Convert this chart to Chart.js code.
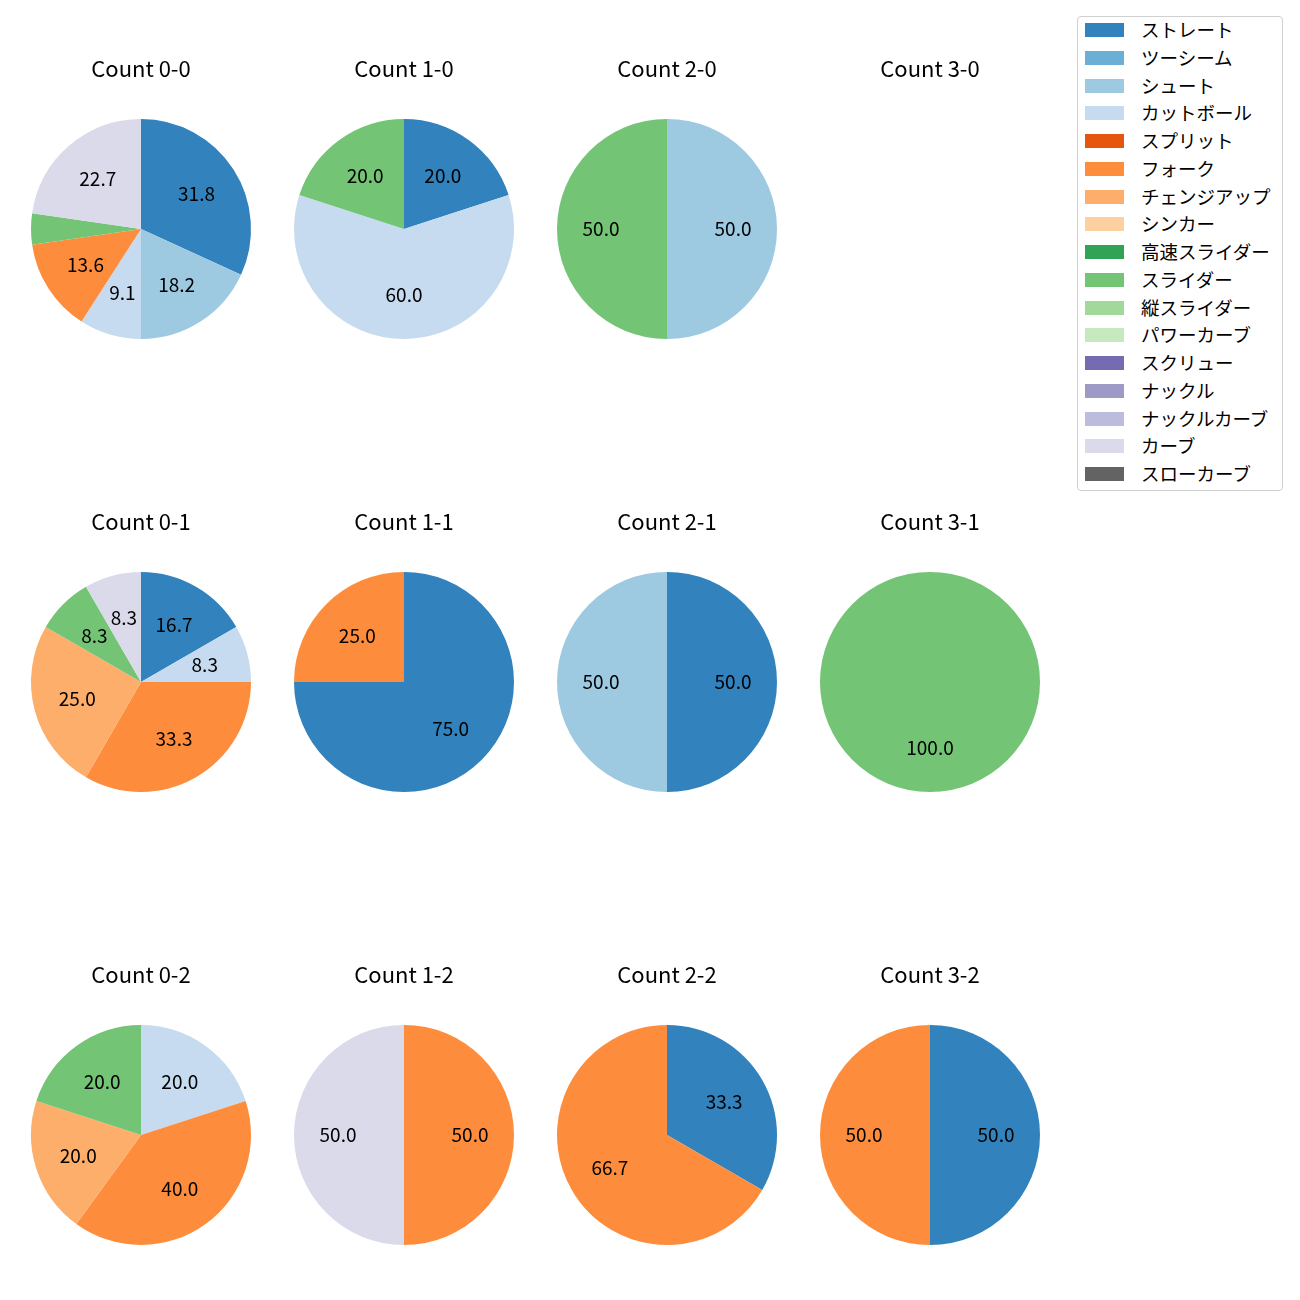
<!DOCTYPE html>
<html>
<head>
<meta charset="utf-8">
<script src="https://cdn.jsdelivr.net/npm/chart.js@4.4.0/dist/chart.umd.min.js"></script>
<style>
  body { margin: 0; background: #fff; width: 1300px; height: 1300px; position: relative; font-family: "Noto Sans CJK JP", "Noto Sans", sans-serif; }
  .pie { position: absolute; width: 260px; height: 300px; }
  #legend { position: absolute; left: 1077px; top: 16px; width: 204px; height: 473px; border: 1px solid #d0d0d0; border-radius: 4px; }
  .item { position: absolute; left: 0; height: 20px; font-size: 18.5px; color: #000; }
  .patch { position: absolute; left: 7px; top: 3px; width: 39px; height: 14px; }
  .label { position: absolute; left: 63px; top: -4px; white-space: nowrap; }
</style>
</head>
<body>
<div id="legend"></div>
<script>
// pitch types and colours (tab20c)
const pitchTypes = ["ストレート", "ツーシーム", "シュート", "カットボール", "スプリット", "フォーク",
  "チェンジアップ", "シンカー", "高速スライダー", "スライダー", "縦スライダー", "パワーカーブ",
  "スクリュー", "ナックル", "ナックルカーブ", "カーブ", "スローカーブ"];
const pitchColors = ["#3182bd", "#6baed6", "#9ecae1", "#c6dbef", "#e6550d", "#fd8d3c",
  "#fdae6b", "#fdd0a2", "#31a354", "#74c476", "#a1d99b", "#c7e9c0",
  "#756bb1", "#9e9ac8", "#bcbddc", "#dadaeb", "#636363"];

// number of pitches per type, same order as pitchTypes
const countNames = ["0-0", "1-0", "2-0", "3-0", "0-1", "1-1", "2-1", "3-1", "0-2", "1-2", "2-2", "3-2"];
const count00 = [7, 0, 4, 2, 0, 3, 0, 0, 0, 1, 0, 0, 0, 0, 0, 5, 0];
const count10 = [1, 0, 0, 3, 0, 0, 0, 0, 0, 1, 0, 0, 0, 0, 0, 0, 0];
const count20 = [0, 0, 1, 0, 0, 0, 0, 0, 0, 1, 0, 0, 0, 0, 0, 0, 0];
const count30 = [0, 0, 0, 0, 0, 0, 0, 0, 0, 0, 0, 0, 0, 0, 0, 0, 0];
const count01 = [2, 0, 0, 1, 0, 4, 3, 0, 0, 1, 0, 0, 0, 0, 0, 1, 0];
const count11 = [3, 0, 0, 0, 0, 1, 0, 0, 0, 0, 0, 0, 0, 0, 0, 0, 0];
const count21 = [1, 0, 1, 0, 0, 0, 0, 0, 0, 0, 0, 0, 0, 0, 0, 0, 0];
const count31 = [0, 0, 0, 0, 0, 0, 0, 0, 0, 1, 0, 0, 0, 0, 0, 0, 0];
const count02 = [0, 0, 0, 1, 0, 2, 1, 0, 0, 1, 0, 0, 0, 0, 0, 0, 0];
const count12 = [0, 0, 0, 0, 0, 1, 0, 0, 0, 0, 0, 0, 0, 0, 0, 1, 0];
const count22 = [1, 0, 0, 0, 0, 2, 0, 0, 0, 0, 0, 0, 0, 0, 0, 0, 0];
const count32 = [1, 0, 0, 0, 0, 1, 0, 0, 0, 0, 0, 0, 0, 0, 0, 0, 0];
const allCounts = [count00, count10, count20, count30, count01, count11, count21, count31,
  count02, count12, count22, count32];

const colX = [141, 404, 667, 930];
const rowY = [229, 682, 1135];

// percent labels at 0.6 of the radius like matplotlib
const pctLabels = {
  id: "pctLabels",
  afterDatasetsDraw(chart) {
    const ctx = chart.ctx;
    const data = chart.data.datasets[0].data;
    const total = data.reduce((a, b) => a + b, 0);
    if (total == 0) return;
    ctx.save();
    ctx.font = "19px 'Noto Sans CJK JP', 'Noto Sans', sans-serif";
    ctx.fillStyle = "#000";
    ctx.textAlign = "center";
    ctx.textBaseline = "middle";
    chart.getDatasetMeta(0).data.forEach(function (arc, i) {
      const pct = data[i] / total * 100;
      if (pct < 5) return;
      const mid = (arc.startAngle + arc.endAngle) / 2;
      const r = arc.outerRadius * 0.6;
      ctx.fillText(pct.toFixed(1), arc.x + r * Math.cos(mid), arc.y + r * Math.sin(mid));
    });
    ctx.restore();
  }
};

for (let i = 0; i < allCounts.length; i++) {
  const cx = colX[i % 4];
  const cy = rowY[Math.floor(i / 4)];
  const canvas = document.createElement("canvas");
  canvas.className = "pie";
  canvas.width = 260;
  canvas.height = 300;
  canvas.style.left = (cx - 130) + "px";
  canvas.style.top = (cy - 180) + "px";
  document.body.appendChild(canvas);

  new Chart(canvas, {
    type: "pie",
    data: {
      labels: pitchTypes,
      datasets: [{
        data: allCounts[i],
        backgroundColor: pitchColors,
        borderWidth: 0,
      }],
    },
    options: {
      responsive: false,
      animation: false,
      layout: { padding: { left: 20, right: 20, bottom: 10 } },
      plugins: {
        legend: { display: false },
        tooltip: { enabled: false },
        title: {
          display: true,
          text: "Count " + countNames[i],
          color: "#000",
          font: { family: "'Noto Sans CJK JP', 'Noto Sans', sans-serif", size: 22, weight: "normal", lineHeight: 1.2 },
          padding: { top: 6.8, bottom: 36.8 },
        },
      },
    },
    plugins: [pctLabels],
  });
}

// legend
const legend = document.getElementById("legend");
for (let i = 0; i < pitchTypes.length; i++) {
  const item = document.createElement("div");
  item.className = "item";
  item.style.top = (3 + i * 27.75) + "px";
  item.innerHTML = '<div class="patch" style="background:' + pitchColors[i] + '"></div><div class="label">' + pitchTypes[i] + "</div>";
  legend.appendChild(item);
}
</script>
</body>
</html>
